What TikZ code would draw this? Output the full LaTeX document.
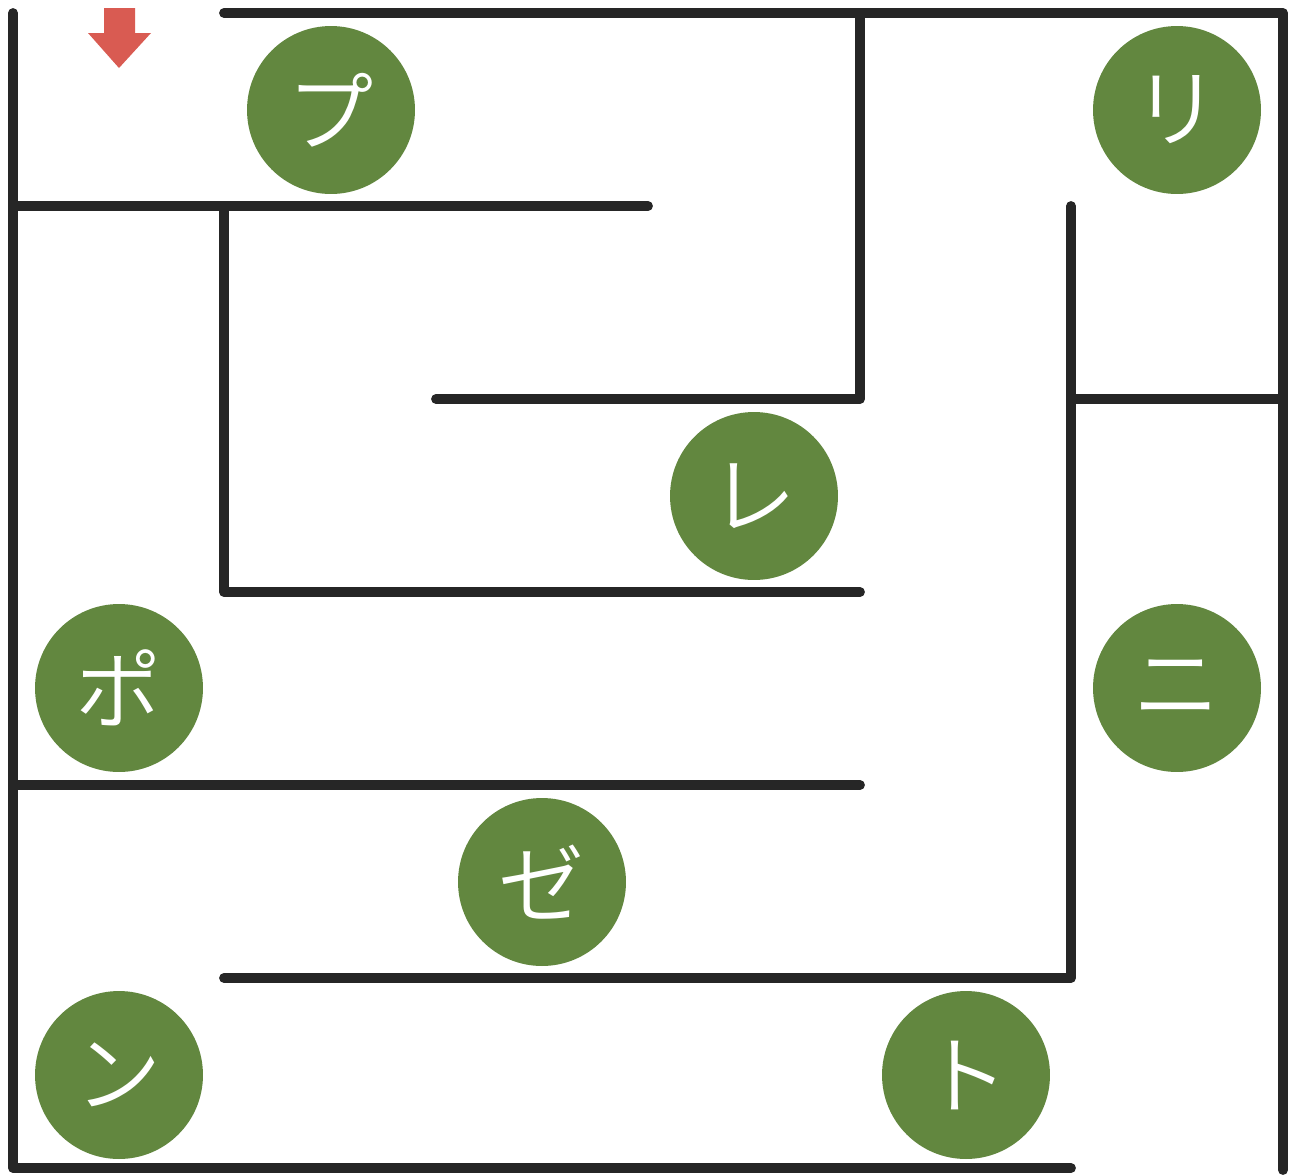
\documentclass[tikz,border=0pt]{standalone}
\usepackage{fontspec}
\newfontfamily\jpfont{Noto Sans CJK JP DemiLight}

\definecolor{wallgray}{HTML}{262626}
\definecolor{leafgreen}{HTML}{62873F}
\definecolor{arrowred}{HTML}{D95B52}

\tikzset{
  wall/.style={draw=wallgray, line width=5.6pt, line cap=round, line join=round},
  kana/.style={circle, fill=leafgreen, minimum size=3.36cm, inner sep=0pt,
    text=white, font=\jpfont\fontsize{49}{49}\selectfont}
}

\begin{document}
\begin{tikzpicture}[x=0.02cm, y=-0.02cm]

\useasboundingbox (0,0) rectangle (1291,1174);

% outer walls
\draw [wall] (224,13) -- (1283,13) -- (1283,1170);
\draw [wall] (13,13) -- (13,1168) -- (1071,1168);

% inner walls
\draw [wall] (13,206) -- (648,206);
\draw [wall] (860,13) -- (860,399) -- (436,399);
\draw [wall] (224,206) -- (224,592) -- (860,592);
\draw [wall] (1071,206) -- (1071,978) -- (224,978);
\draw [wall] (1071,399) -- (1283,399);
\draw [wall] (13,785) -- (860,785);

% entrance
\fill [arrowred] (104,8) -- (135,8) -- (135,33) -- (151,33) -- (119,68) -- (88,33) -- (104,33) -- cycle;

% letters
\node [kana] (pu)  at (331,110)  {プ};
\node [kana] (ri)  at (1177,110) {リ};
\node [kana] (re)  at (754,496)  {レ};
\node [kana] (po)  at (119,688)  {ポ};
\node [kana] (ni)  at (1177,688) {ニ};
\node [kana] (ze)  at (542,882)  {ゼ};
\node [kana] (n)   at (119,1075) {ン};
\node [kana] (to)  at (966,1075) {ト};

\end{tikzpicture}
\end{document}
